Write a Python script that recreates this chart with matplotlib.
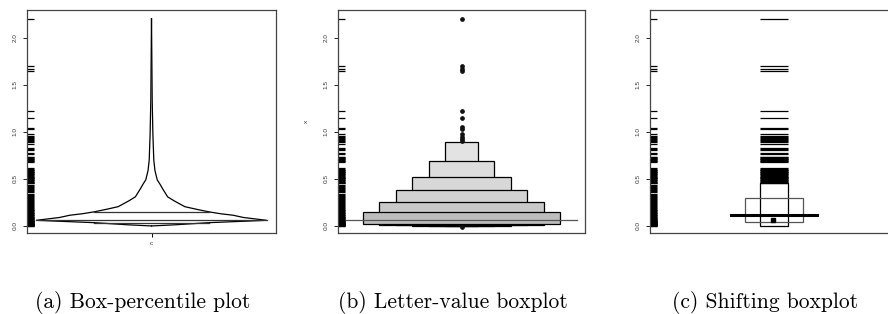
import numpy as np
import matplotlib
matplotlib.use("Agg")
import matplotlib.pyplot as plt
from matplotlib.patches import Rectangle

rug_values = [
    0.000, 0.003, 0.006, 0.008, 0.011, 0.014, 0.016, 0.019, 0.022, 0.025,
    0.028, 0.031, 0.034, 0.038, 0.041, 0.045, 0.049, 0.053, 0.057, 0.061,
    0.066, 0.071, 0.076, 0.081, 0.087, 0.093, 0.099, 0.105, 0.112, 0.119,
    0.126, 0.133, 0.141, 0.149, 0.157, 0.165, 0.174, 0.183, 0.192, 0.201,
    0.211, 0.221, 0.231, 0.241, 0.252, 0.263, 0.274, 0.285, 0.297, 0.309,
    0.321, 0.333, 0.345, 0.357, 0.369, 0.381, 0.393, 0.405, 0.417, 0.429,
    0.441, 0.452, 0.461, 0.467, 0.473, 0.479, 0.486, 0.492, 0.498, 0.505,
    0.512, 0.519, 0.526, 0.534, 0.541, 0.548, 0.556, 0.563, 0.571, 0.578,
    0.586, 0.593, 0.600, 0.607, 0.614, 0.681, 0.688, 0.695, 0.703, 0.710,
    0.717, 0.724, 0.731, 0.739, 0.764, 0.781, 0.803, 0.816, 0.827, 0.871,
    0.889, 0.907, 0.918, 0.929, 0.940, 0.951, 0.962, 0.975, 1.028, 1.042,
    1.146, 1.228, 1.651, 1.673, 1.697, 2.206,
]

# box-percentile plot: quantile curve
bp_prob = [0.0, 0.05, 0.10, 0.25, 0.40, 0.50, 0.60, 0.645, 0.70, 0.75, 0.80,
           0.855, 0.90, 0.93, 0.954, 0.962, 0.975, 0.985, 0.99, 0.994, 0.997, 1.0]
bp_value = [0.0, 0.006, 0.012, 0.035, 0.050, 0.060, 0.090, 0.114, 0.130, 0.150,
            0.175, 0.205, 0.265, 0.310, 0.405, 0.440, 0.490, 0.590, 0.700,
            0.980, 1.340, 2.206]
bp_lines = [0.25, 0.50, 0.75]

# letter-value boxplot
lv_lower = [0.025, 0.014, 0.007, 0.004, 0.002, 0.000]
lv_upper = [0.150, 0.260, 0.385, 0.516, 0.694, 0.897]
lv_colors = ["#bdbdbd", "#c9c9c9", "#d2d2d2", "#d8d8d8", "#dddddd", "#e3e3e3"]
lv_median = 0.060
lv_outliers = [2.206, 1.697, 1.673, 1.651, 1.228, 1.146, 1.053, 1.028,
               0.975, 0.950, 0.929, 0.907, -0.008]

# shifting boxplot
shift_tall = (0.0, 0.46)
shift_box = (0.043, 0.300)
shift_center = 0.120
shift_point = 0.068

captions = ["(a) Box-percentile plot", "(b) Letter-value boxplot",
            "(c) Shifting boxplot"]

plt.rcParams['font.family'] = ['Liberation Sans', 'DejaVu Sans']

fig = plt.figure(figsize=(8.88, 3.14), dpi=100)
W, H = 888, 314
lefts = [27, 338, 650]
widths = [249, 247, 248]
top, bottom = 10, 233
axes = []
for l, w in zip(lefts, widths):
    ax = fig.add_axes([l / W, (H - bottom) / H, w / W, (bottom - top) / H])
    axes.append(ax)

yl = (-0.075, 2.298)
for ax in axes:
    ax.set_xlim(-1, 1)
    ax.set_ylim(*yl)
    for s in ax.spines.values():
        s.set_color("#444444")
        s.set_linewidth(0.9)
    ax.set_yticks([0.0, 0.5, 1.0, 1.5, 2.0])
    ax.set_yticklabels(["0.0", "0.5", "1.0", "1.5", "2.0"], rotation=90,
                       va="center", fontsize=4.6, color="#333333")
    ax.tick_params(axis="y", length=3, width=0.7, pad=4, color="#222222")
    ax.set_xticks([])
    # rug
    ax.hlines(rug_values, 0, 0.028, transform=ax.get_yaxis_transform(),
              color="black", lw=0.9)

# (a) box-percentile
ax = axes[0]
p = np.array(bp_prob)
v = np.array(bp_value)
half = np.minimum(p, 1 - p) / 0.5 * 0.924
ax.plot(half, v, color="black", lw=0.9)
ax.plot(-half, v, color="black", lw=0.9)
for q in bp_lines:
    yq = np.interp(q, p, v)
    hw = min(q, 1 - q) / 0.5 * 0.924
    ax.plot([-hw, hw], [yq, yq], color="#333333", lw=0.9)
ax.set_xticks([0])
ax.set_xticklabels(["c"], fontsize=4.6, color="#333333")
ax.tick_params(axis="x", length=3, width=0.7, pad=3)

# (b) letter-value boxplot
ax = axes[1]
n = len(lv_lower)
for i in range(n - 1, -1, -1):
    hw = 0.80 * (n - i) / n
    ax.add_patch(Rectangle((-hw, lv_lower[i]), 2 * hw, lv_upper[i] - lv_lower[i],
                           facecolor=lv_colors[i], edgecolor="black", lw=0.9,
                           zorder=2 + (n - i)))
ax.plot([-0.935, 0.935], [lv_median, lv_median], color="#555555", lw=0.9, zorder=10)
ax.plot([0] * len(lv_outliers), lv_outliers, "o", color="#111111", ms=2.4, zorder=11)
ax.set_ylabel("x", fontsize=4.6, labelpad=10, color="#333333")

# (c) shifting boxplot
ax = axes[2]
hw_tall = 0.115
hw_box = 0.234
ax.add_patch(Rectangle((-hw_tall, shift_tall[0]), 2 * hw_tall,
                       shift_tall[1] - shift_tall[0], facecolor="none",
                       edgecolor="black", lw=0.9))
ax.add_patch(Rectangle((-hw_box, shift_box[0]), 2 * hw_box,
                       shift_box[1] - shift_box[0], facecolor="none",
                       edgecolor="#555555", lw=0.9))
upper = [x for x in rug_values if x > shift_tall[1]]
ax.hlines(upper, -hw_tall, hw_tall, color="black", lw=0.9)
ax.plot([-0.35, 0.35], [shift_center, shift_center], color="black", lw=2.2)
ax.plot([-0.005], [shift_point], "s", color="black", ms=2.8)

# captions
cap_x = [143, 453, 765]
for cx, t in zip(cap_x, captions):
    fig.text(cx / W, 1 - 302 / H, t, ha="center", va="center",
             fontsize=15.5, family="cmr10")

fig.savefig("out.png", dpi=100)
